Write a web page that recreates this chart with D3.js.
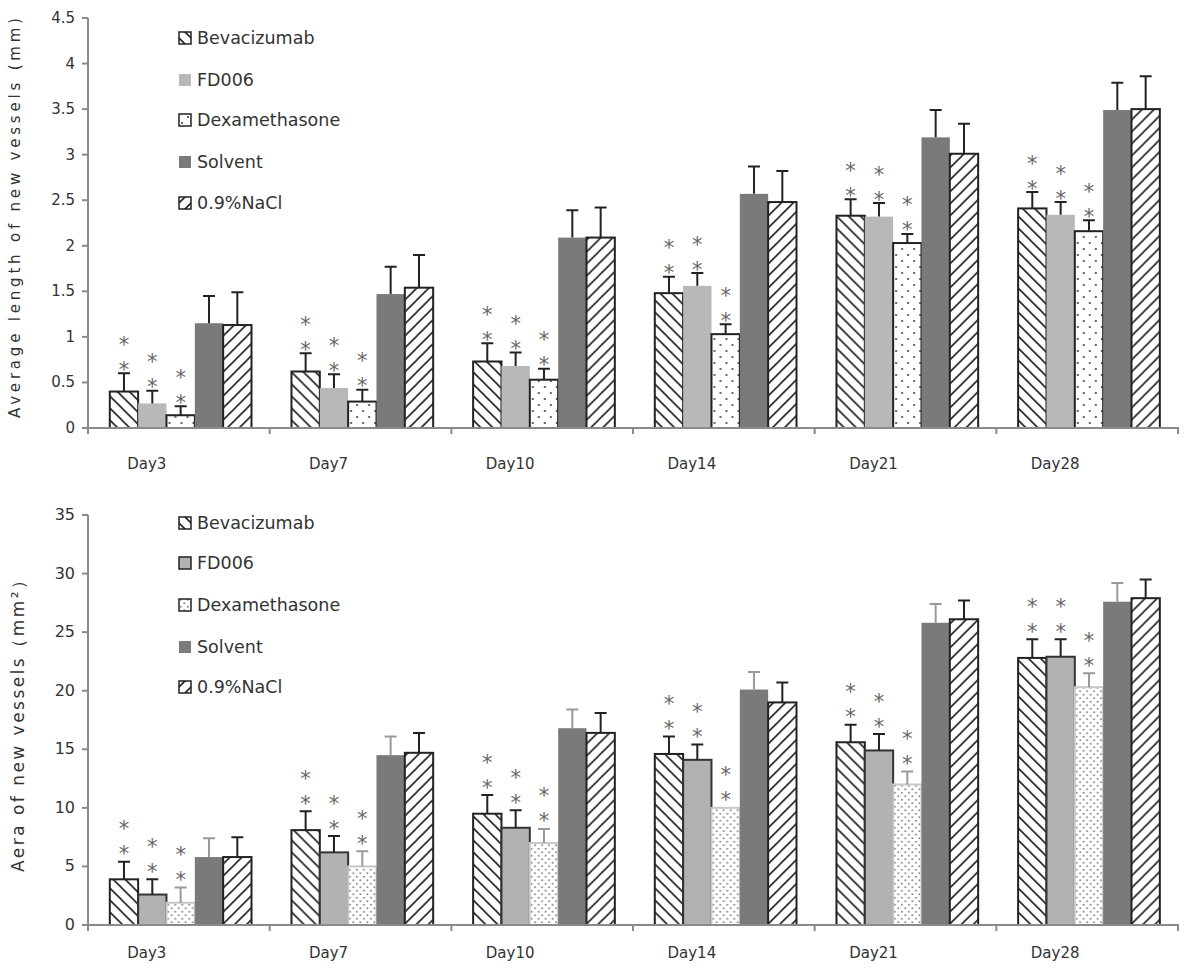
<!DOCTYPE html>
<html>
<head>
<meta charset="utf-8">
<script src="https://cdn.jsdelivr.net/npm/d3@7"></script>
<style>
  body { margin: 0; background: #fff; }
  svg { display: block; font-family: "DejaVu Sans", sans-serif; }
</style>
</head>
<body>
<svg id="chart" width="1200" height="978"></svg>
<script>
"use strict"

/****** DATA ******/
const days = ['Day3', 'Day7', 'Day10', 'Day14', 'Day21', 'Day28']
const groups = ['Bevacizumab', 'FD006', 'Dexamethasone', 'Solvent', '0.9%NaCl']

// average length of new vessels (mm), one row per day, one column per group
const lengthMean = [
  [0.40, 0.27, 0.14, 1.15, 1.13],
  [0.62, 0.44, 0.29, 1.47, 1.54],
  [0.73, 0.68, 0.53, 2.09, 2.09],
  [1.48, 1.56, 1.03, 2.57, 2.48],
  [2.33, 2.32, 2.03, 3.19, 3.01],
  [2.41, 2.34, 2.16, 3.49, 3.50],
]
const lengthErr = [
  [0.20, 0.14, 0.10, 0.30, 0.36],
  [0.20, 0.15, 0.13, 0.30, 0.36],
  [0.20, 0.15, 0.12, 0.30, 0.33],
  [0.18, 0.14, 0.11, 0.30, 0.34],
  [0.18, 0.15, 0.10, 0.30, 0.33],
  [0.18, 0.14, 0.12, 0.30, 0.36],
]
const lengthTicks = [0, 0.5, 1, 1.5, 2, 2.5, 3, 3.5, 4, 4.5]

// area of new vessels (mm2)
const areaMean = [
  [3.9, 2.6, 1.9, 5.8, 5.8],
  [8.1, 6.2, 5.0, 14.5, 14.7],
  [9.5, 8.3, 7.0, 16.8, 16.4],
  [14.6, 14.1, 10.0, 20.1, 19.0],
  [15.6, 14.9, 12.0, 25.8, 26.1],
  [22.8, 22.9, 20.3, 27.6, 27.9],
]
const areaErr = [
  [1.5, 1.3, 1.3, 1.6, 1.7],
  [1.6, 1.4, 1.3, 1.6, 1.7],
  [1.6, 1.5, 1.2, 1.6, 1.7],
  [1.5, 1.3, 0.0, 1.5, 1.7],
  [1.5, 1.4, 1.1, 1.6, 1.6],
  [1.6, 1.5, 1.2, 1.6, 1.6],
]
const areaTicks = [0, 5, 10, 15, 20, 25, 30, 35]

// groups marked ** against the controls
const starred = [true, true, true, false, false]

/****** STYLES ******/
const svg = d3.select('#chart')
const defs = svg.append('defs')

function hatch(id, d) {
  defs.append('pattern').attr('id', id)
    .attr('patternUnits', 'userSpaceOnUse').attr('width', 12).attr('height', 12)
    .call(p => p.append('rect').attr('width', 12).attr('height', 12).attr('fill', '#fff'))
    .append('path').attr('d', d).attr('stroke', '#222').attr('stroke-width', 1.6)
}
hatch('back', 'M0,0L12,12M-6,6L6,18M6,-6L18,6')
hatch('fwd', 'M0,12L12,0M-6,6L6,-6M6,18L18,6')

function dots(id, size, r, color) {
  const p = defs.append('pattern').attr('id', id)
    .attr('patternUnits', 'userSpaceOnUse').attr('width', size).attr('height', size)
  p.append('rect').attr('width', size).attr('height', size).attr('fill', '#fff')
  p.append('circle').attr('cx', size / 4).attr('cy', size / 4).attr('r', r).attr('fill', color)
  p.append('circle').attr('cx', size * 3 / 4).attr('cy', size * 3 / 4).attr('r', r).attr('fill', color)
}
dots('dotsTop', 12, 1.1, '#444')
dots('dotsBottom', 7, 1.0, '#888')

const topStyle = [
  {fill: 'url(#back)', stroke: '#222', err: '#222'},
  {fill: '#b8b8b8', stroke: 'none', err: '#222'},
  {fill: 'url(#dotsTop)', stroke: '#222', err: '#222'},
  {fill: '#7a7a7a', stroke: 'none', err: '#222'},
  {fill: 'url(#fwd)', stroke: '#222', err: '#222'},
]
const bottomStyle = [
  {fill: 'url(#back)', stroke: '#222', err: '#222'},
  {fill: '#b2b2b2', stroke: '#333', err: '#222'},
  {fill: 'url(#dotsBottom)', stroke: '#c8c8c8', err: '#999'},
  {fill: '#7a7a7a', stroke: 'none', err: '#999'},
  {fill: 'url(#fwd)', stroke: '#222', err: '#222'},
]

/****** PANEL ******/
function drawPanel(o) {
  const g = svg.append('g')
  const x = d3.scaleBand().domain(days).range([88, 1178])
  const xi = d3.scaleBand().domain(groups).range([x.bandwidth() * 0.12, x.bandwidth() * 0.9])
  const y = d3.scaleLinear().domain([0, o.ticks[o.ticks.length - 1]]).range([o.bottom, o.top])

  // bars
  const cells = []
  days.forEach((day, i) => groups.forEach((grp, j) => cells.push({day, grp, j, v: o.mean[i][j], e: o.err[i][j]})))
  const cell = g.selectAll('g.cell').data(cells).enter().append('g')
    .attr('transform', d => `translate(${x(d.day) + xi(d.grp)},0)`)
  cell.append('rect')
    .attr('x', 0).attr('width', xi.bandwidth())
    .attr('y', d => y(d.v)).attr('height', d => y(0) - y(d.v))
    .attr('fill', d => o.style[d.j].fill)
    .attr('stroke', d => o.style[d.j].stroke)
    .attr('stroke-width', 2)

  // error bars
  const eb = cell.filter(d => d.e > 0)
  const mid = xi.bandwidth() / 2
  eb.append('path')
    .attr('d', d => `M${mid},${y(d.v)}V${y(d.v + d.e)}M${mid - 6},${y(d.v + d.e)}H${mid + 6}`)
    .attr('fill', 'none').attr('stroke', d => o.style[d.j].err).attr('stroke-width', 2)

  // significance stars, two stacked
  const starSize = 21
  const st = cell.filter(d => starred[d.j])
  ;[0, 1].forEach(k => st.append('text')
    .attr('x', mid).attr('text-anchor', 'middle')
    .attr('y', d => y(d.v + d.e) - o.starGap - k * 25 + starSize * 0.55)
    .attr('font-size', starSize).attr('fill', '#666')
    .text('*'))

  // axes
  const axisColor = '#8a8a8a'
  g.append('line').attr('x1', 88).attr('x2', 88).attr('y1', y(0) + 6).attr('y2', o.top)
    .attr('stroke', axisColor).attr('stroke-width', 2)
  g.append('line').attr('x1', 87).attr('x2', 1179).attr('y1', y(0)).attr('y2', y(0))
    .attr('stroke', axisColor).attr('stroke-width', 2)
  g.selectAll('line.ytick').data(o.ticks).enter().append('line')
    .attr('x1', 82).attr('x2', 88).attr('y1', d => y(d)).attr('y2', d => y(d))
    .attr('stroke', axisColor).attr('stroke-width', 2)
  g.selectAll('text.ytick').data(o.ticks).enter().append('text')
    .attr('x', 75).attr('y', d => y(d) + 5).attr('text-anchor', 'end')
    .attr('font-size', o.tickSize).attr('fill', '#333')
    .text(d => d)
  const bounds = days.map(d => x(d)).concat([x.range()[1]])
  g.selectAll('line.xtick').data(bounds).enter().append('line')
    .attr('x1', d => d).attr('x2', d => d).attr('y1', y(0)).attr('y2', y(0) + 6)
    .attr('stroke', axisColor).attr('stroke-width', 2)
  g.selectAll('text.xtick').data(days).enter().append('text')
    .attr('x', d => x(d) + x.bandwidth() / 2 - 32).attr('y', y(0) + o.labelDy)
    .attr('text-anchor', 'middle').attr('font-size', 15).attr('fill', '#333')
    .text(d => d)

  // y title
  g.append('text')
    .attr('transform', `translate(${o.titleX},${o.titleY}) rotate(-90)`)
    .attr('text-anchor', 'middle').attr('font-size', o.titleSize).attr('fill', '#333')
    .attr('textLength', o.titleLen).attr('lengthAdjust', 'spacing')
    .text(o.title)

  // legend
  const lg = g.selectAll('g.leg').data(groups).enter().append('g')
    .attr('transform', (d, i) => `translate(179,${o.legendY[i]})`)
  lg.append('rect').attr('x', 0).attr('y', -6).attr('width', 12).attr('height', 12)
    .attr('fill', (d, i) => o.style[i].fill)
    .attr('stroke', (d, i) => o.style[i].stroke === 'none' ? 'none' : '#222').attr('stroke-width', 1.5)
  lg.append('text').attr('x', 18).attr('y', 6)
    .attr('font-size', 17.5).attr('fill', '#333')
    .text(d => d)
}

drawPanel({
  mean: lengthMean, err: lengthErr, ticks: lengthTicks, style: topStyle,
  top: 18, bottom: 428, labelDy: 41, tickSize: 15, starGap: 8,
  title: 'Average length of new vessels (mm)', titleX: 20, titleY: 218, titleSize: 15, titleLen: 400,
  legendY: [38, 80, 120, 162, 203],
})
drawPanel({
  mean: areaMean, err: areaErr, ticks: areaTicks, style: bottomStyle,
  top: 515, bottom: 925, labelDy: 33, tickSize: 16, starGap: 12,
  title: 'Aera of new vessels（mm²）', titleX: 24, titleY: 722, titleSize: 17, titleLen: 300,
  legendY: [523, 563, 605, 647, 687],
})
</script>
</body>
</html>
